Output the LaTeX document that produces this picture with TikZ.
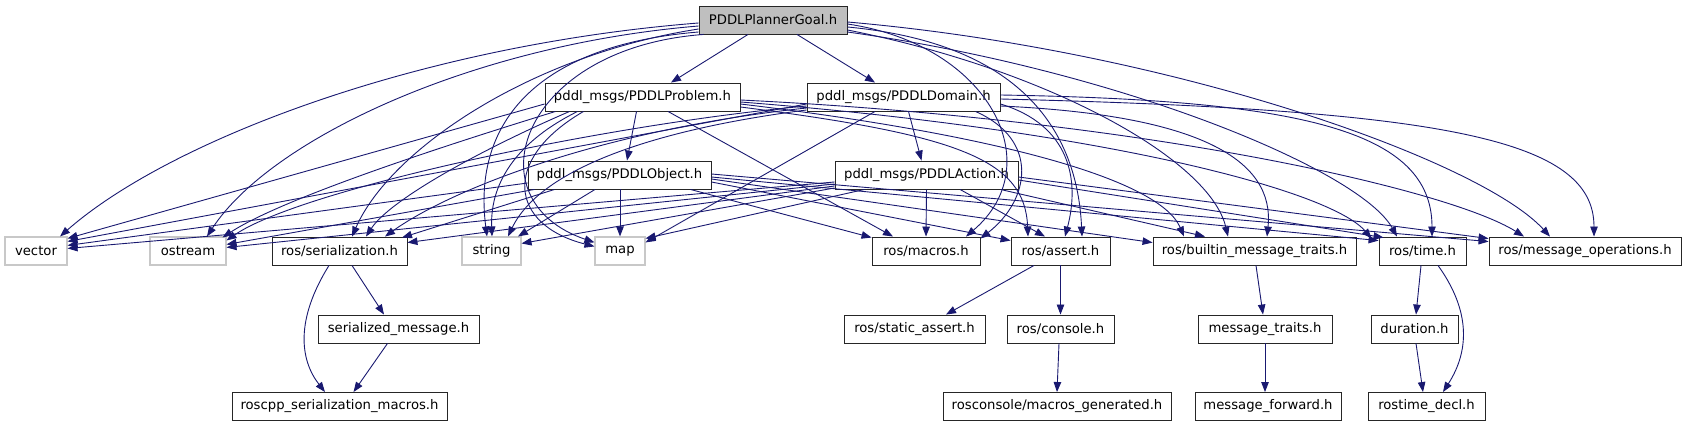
\documentclass[tikz,border=0pt]{standalone}
\usepackage{fontspec}
\setmainfont{DejaVu Sans}
\usetikzlibrary{arrows.meta,calc}
\definecolor{edgecol}{RGB}{25,25,112}
\definecolor{rootfill}{RGB}{191,191,191}
\definecolor{sysgray}{RGB}{200,200,200}
\begin{document}
\begin{tikzpicture}[x=1pt,y=-1pt,
  box/.style={draw=black!85,line width=0.9pt,fill=white,inner sep=0pt,minimum height=28pt,font=\fontsize{13.2}{15}\selectfont},
  sysbox/.style={box,draw=sysgray,line width=1.1pt},
  rootbox/.style={box,fill=rootfill},
  e/.style={draw=edgecol,line width=0.9pt,-{Triangle[length=10pt,width=7.5pt]}}]
\useasboundingbox (0,0) rectangle (1687,427);
% row 0
\node[rootbox,minimum width=148pt] (root) at (773,20) {PDDLPlannerGoal.h};
% row 1
\node[box,minimum width=195pt] (prob) at (642.5,97) {pddl\_msgs/PDDLProblem.h};
\node[box,minimum width=193pt] (dom) at (903.5,97) {pddl\_msgs/PDDLDomain.h};
% row 2
\node[box,minimum width=183pt] (obj) at (619.5,175) {pddl\_msgs/PDDLObject.h};
\node[box,minimum width=183pt] (act) at (926.5,175) {pddl\_msgs/PDDLAction.h};
% row 3
\node[sysbox,minimum width=62pt] (vector) at (36,251) {vector};
\node[sysbox,minimum width=76pt] (ostream) at (188,251) {ostream};
\node[box,minimum width=135pt] (ser) at (339.5,251) {ros/serialization.h};
\node[sysbox,minimum width=59pt] (string) at (491.5,251) {string};
\node[sysbox,minimum width=50pt] (map) at (620,251) {map};
\node[box,minimum width=108pt] (macros) at (926,251) {ros/macros.h};
\node[box,minimum width=99pt] (assert) at (1060.5,251) {ros/assert.h};
\node[box,minimum width=203pt] (builtin) at (1254.5,251) {ros/builtin\_message\_traits.h};
\node[box,minimum width=87pt] (time) at (1422.5,251) {ros/time.h};
\node[box,minimum width=192pt] (msgops) at (1585,251) {ros/message\_operations.h};
% row 4
\node[box,minimum width=161pt] (sermsg) at (398.5,329) {serialized\_message.h};
\node[box,minimum width=141pt] (sassert) at (914.5,329) {ros/static\_assert.h};
\node[box,minimum width=107pt] (console) at (1060.5,329) {ros/console.h};
\node[box,minimum width=134pt] (mtraits) at (1265,329) {message\_traits.h};
\node[box,minimum width=87pt] (duration) at (1414.5,329) {duration.h};
% row 5
\node[box,minimum width=215pt] (roscppm) at (339.5,406.5) {roscpp\_serialization\_macros.h};
\node[box,minimum width=228pt] (rcmacros) at (1057,406.5) {rosconsole/macros\_generated.h};
\node[box,minimum width=146pt] (mfwd) at (1268,406.5) {message\_forward.h};
\node[box,minimum width=117pt] (rtdecl) at (1426.5,406.5) {rostime\_decl.h};

% ---- root edges
\draw[e] ($(root.south)+(-25,0)$) -- ($(prob.north)+(28.5,0)$);
\draw[e] ($(root.south)+(24,0)$) -- ($(dom.north)+(-28.5,0)$);
\draw[e] ($(root.west)+(0,3)$) .. controls (420,45) and (170,140) .. ($(vector.north)+(24,0)$);
\draw[e] ($(root.west)+(0,6)$) .. controls (470,45) and (270,140) .. ($(ostream.north)+(19,0)$);
\draw[e] ($(root.west)+(0,9)$) .. controls (530,55) and (390,150) .. ($(ser.north)+(12.5,0)$);
\draw[e] ($(root.west)+(0,12)$) .. controls (540,45) and (472,120) .. ($(string.north)+(-4.5,0)$);
\draw[e] ($(root.south west)+(5,0)$) .. controls (520,48) and (470,200) .. ($(map.north west)+(0,6)$);
\draw[e] ($(root.east)+(0,4)$) .. controls (990,45) and (1050,165) .. ($(macros.north)+(40,0)$);
\draw[e] ($(root.east)+(0,7)$) .. controls (1040,45) and (1078,150) .. ($(assert.north)+(21.5,0)$);
\draw[e] ($(root.east)+(0,10)$) .. controls (1050,70) and (1210,160) .. ($(builtin.north)+(-26.5,0)$);
\draw[e] ($(root.east)+(0,12)$) .. controls (1120,70) and (1360,170) .. ($(time.north)+(-25.5,0)$);
\draw[e] ($(root.east)+(0,2)$) .. controls (1170,50) and (1480,160) .. ($(msgops.north)+(-35,0)$);
% ---- problem edges
\draw[e] ($(prob.south)+(-6,0)$) -- ($(obj.north)+(7.5,0)$);
\draw[e] ($(prob.west)+(0,7)$) -- ($(vector.north east)+(0,2)$);
\draw[e] ($(prob.south west)+(11,0)$) .. controls (430,150) and (280,200) .. ($(ostream.north east)+(-4,1)$);
\draw[e] ($(prob.south west)+(25,0)$) .. controls (480,150) and (390,200) .. ($(ser.north)+(26.5,0)$);
\draw[e] ($(prob.south west)+(33,0)$) .. controls (520,140) and (490,180) .. ($(string.north)+(0.5,0)$);
\draw[e] ($(prob.south west)+(39,0)$) .. controls (500,160) and (510,225) .. ($(map.north west)+(0,10)$);
\draw[e] ($(prob.south)+(25.5,0)$) -- ($(macros.north)+(-33,0)$);
\draw[e] ($(prob.east)+(0,10)$) .. controls (960,135) and (1025,160) .. ($(assert.north)+(-32.5,0)$);
\draw[e] ($(prob.east)+(0,7)$) .. controls (1000,135) and (1160,180) .. ($(builtin.north)+(-70.5,0)$);
\draw[e] ($(prob.east)+(0,5)$) .. controls (1100,130) and (1330,190) .. ($(time.north west)+(-7,2)$);
\draw[e] ($(prob.east)+(0,3)$) .. controls (1150,120) and (1450,190) .. ($(msgops.north)+(-61,0)$);
% ---- domain edges
\draw[e] ($(dom.south)+(5,0)$) -- ($(act.north)+(-5,0)$);
\draw[e] ($(dom.west)+(0,7)$) -- ($(vector.north east)+(0,5)$);
\draw[e] ($(dom.west)+(0,9)$) .. controls (600,125) and (300,190) .. ($(ostream.north east)+(0,4)$);
\draw[e] ($(dom.west)+(0,11)$) .. controls (600,130) and (450,190) .. ($(ser.north)+(45.5,0)$);
\draw[e] ($(dom.west)+(0,13)$) .. controls (650,130) and (540,170) .. ($(string.north)+(16.5,0)$);
\draw[e] ($(dom.south)+(-28.5,0)$) -- ($(map.north east)+(0,6)$);
\draw[e] ($(dom.south east)+(-25,0)$) .. controls (1040,140) and (1030,200) .. ($(macros.north east)+(0,2)$);
\draw[e] ($(dom.east)+(0,7)$) .. controls (1070,125) and (1080,180) .. ($(assert.north)+(4.5,0)$);
\draw[e] ($(dom.east)+(0,9)$) .. controls (1200,115) and (1275,160) .. ($(builtin.north)+(12.5,0)$);
\draw[e] ($(dom.east)+(0,-2)$) .. controls (1300,100) and (1432,130) .. ($(time.north)+(9.5,0)$);
\draw[e] ($(dom.east)+(0,2)$) .. controls (1450,110) and (1594,140) .. ($(msgops.north)+(9,0)$);
% ---- object edges
\draw[e] ($(obj.west)+(0,8)$) -- ($(vector.north east)+(0,9)$);
\draw[e] ($(obj.south west)+(7,0)$) -- ($(ostream.north east)+(0,8)$);
\draw[e] ($(obj.south west)+(27,0)$) -- ($(ser.north)+(62.5,1)$);
\draw[e] ($(obj.south)+(-24.5,0)$) -- ($(string.north)+(26.5,0)$);
\draw[e] ($(obj.south)+(0.5,0)$) -- (map.north);
\draw[e] ($(obj.south east)+(-21,0)$) -- ($(macros.north west)+(0,1)$);
\draw[e] ($(obj.east)+(0,7)$) -- ($(assert.north west)+(0,4)$);
\draw[e] ($(obj.east)+(0,4)$) -- ($(builtin.north west)+(0,6)$);
\draw[e] ($(obj.east)+(0,2)$) -- ($(time.north west)+(0,4)$);
\draw[e] ($(obj.east)+(0,-1)$) -- ($(msgops.north west)+(0,5)$);
% ---- action edges
\draw[e] ($(act.west)+(0,7)$) -- ($(vector.north east)+(0,12)$);
\draw[e] ($(act.west)+(0,9)$) -- ($(ostream.north east)+(0,11)$);
\draw[e] ($(act.west)+(0,11)$) -- ($(ser.north east)+(0,6)$);
\draw[e] ($(act.west)+(0,13)$) -- ($(string.north east)+(0,7)$);
\draw[e] ($(act.south west)+(30,0)$) -- ($(map.north east)+(0,2)$);
\draw[e] (act.south) -- (macros.north);
\draw[e] ($(act.south)+(33.5,0)$) -- ($(assert.north)+(-15.5,0)$);
\draw[e] ($(act.south east)+(-18,0)$) -- ($(builtin.north)+(-49.5,0)$);
\draw[e] ($(act.east)+(0,5)$) -- ($(time.north west)+(5,1)$);
\draw[e] ($(act.east)+(0,2)$) -- ($(msgops.north west)+(0,2)$);
% ---- lower edges
\draw[e] ($(ser.south)+(12.5,0)$) -- ($(sermsg.north)+(-14.5,0)$);
\draw[e] ($(ser.south)+(-10.5,0)$) .. controls (295,320) and (300,360) .. ($(roscppm.north)+(-14.5,0)$);
\draw[e] ($(sermsg.south)+(-11,0)$) -- ($(roscppm.north)+(14,0)$);
\draw[e] ($(assert.south)+(-26.5,0)$) -- ($(sassert.north)+(31.5,0)$);
\draw[e] (assert.south) -- (console.north);
\draw[e] ($(console.south)+(-1.5,0)$) -- (rcmacros.north);
\draw[e] ($(builtin.south)+(1.5,0)$) -- ($(mtraits.north)+(-2,0)$);
\draw[e] (mtraits.south) -- ($(mfwd.north)+(-3,0)$);
\draw[e] ($(time.south)+(-1.5,0)$) -- ($(duration.north)+(1.5,0)$);
\draw[e] ($(time.south)+(15.5,0)$) .. controls (1470,310) and (1470,350) .. ($(rtdecl.north)+(16.5,0)$);
\draw[e] ($(duration.south)+(1.5,0)$) -- ($(rtdecl.north)+(-3.5,0)$);
\end{tikzpicture}
\end{document}
